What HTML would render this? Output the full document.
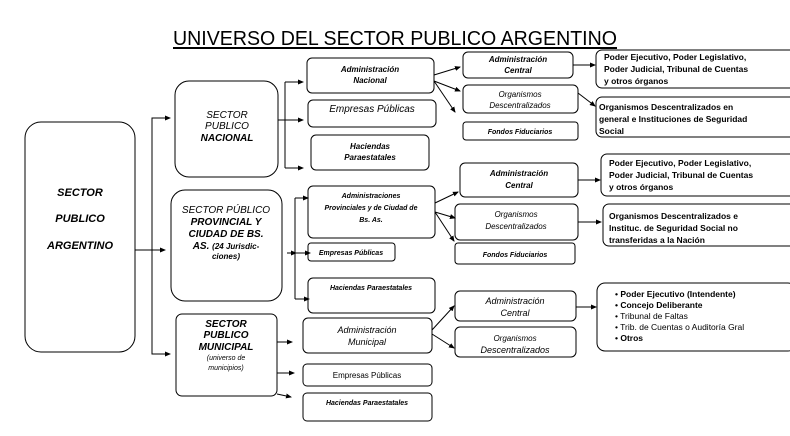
<!DOCTYPE html>
<html><head><meta charset="utf-8"><style>
html,body{margin:0;padding:0;background:#fff;}
svg{display:block;}
text{font-family:"Liberation Sans",sans-serif;fill:#000;}
.i{font-style:italic;font-weight:bold;}
.b{font-weight:bold;}
</style></head><body>
<svg width="790" height="436" viewBox="0 0 790 436" xmlns="http://www.w3.org/2000/svg">
<defs><marker id="a" markerWidth="6" markerHeight="6" refX="5" refY="3" orient="auto" markerUnits="userSpaceOnUse"><path d="M0,0.5 L6,3 L0,5.5 z" fill="#000"/></marker></defs>
<g fill="none" stroke="#000" stroke-width="1">
<line x1="173" y1="48" x2="617" y2="48" stroke-width="2"/>
<rect x="25" y="122" width="110" height="230" rx="16"/>
<rect x="175" y="81" width="103" height="96" rx="14"/>
<rect x="171" y="190" width="111" height="111" rx="14"/>
<rect x="176" y="314" width="101" height="82" rx="6"/>
<rect x="307" y="58" width="127" height="35" rx="5"/>
<rect x="308" y="100" width="128" height="27" rx="5"/>
<rect x="311" y="135" width="118" height="35" rx="5"/>
<rect x="308" y="186" width="127" height="52" rx="5"/>
<rect x="308" y="243" width="87" height="18" rx="3"/>
<rect x="308" y="278" width="127" height="35" rx="5"/>
<rect x="303" y="318" width="129" height="35" rx="5"/>
<rect x="303" y="364" width="129" height="22" rx="4"/>
<rect x="303" y="393" width="129" height="28" rx="4"/>
<rect x="463" y="52" width="110" height="26" rx="5"/>
<rect x="463" y="85" width="115" height="28" rx="5"/>
<rect x="463" y="122" width="115" height="18" rx="3"/>
<rect x="460" y="163" width="118" height="34" rx="5"/>
<rect x="455" y="204" width="123" height="36" rx="5"/>
<rect x="455" y="243" width="120" height="21" rx="3"/>
<rect x="455" y="291" width="121" height="30" rx="5"/>
<rect x="455" y="327" width="121" height="30" rx="5"/>
<rect x="596" y="50" width="200" height="38" rx="6"/>
<rect x="596" y="97" width="200" height="40" rx="6"/>
<rect x="601" y="154" width="195" height="42" rx="6"/>
<rect x="603" y="204" width="193" height="42" rx="6"/>
<rect x="597" y="283" width="199" height="68" rx="8"/>
<path d="M170,118 H152 V354 H170" marker-end="url(#a)"/>
<line x1="152" y1="118" x2="170" y2="118" marker-end="url(#a)"/>
<line x1="135" y1="250" x2="165" y2="250" marker-end="url(#a)"/>
<line x1="278" y1="120" x2="285" y2="120"/>
<path d="M285,82 V168"/>
<line x1="285" y1="82" x2="303" y2="82" marker-end="url(#a)"/>
<line x1="285" y1="120" x2="303" y2="120" marker-end="url(#a)"/>
<line x1="285" y1="168" x2="303" y2="168" marker-end="url(#a)"/>
<line x1="287" y1="253" x2="296" y2="253" marker-end="url(#a)"/>
<path d="M295,198 V299"/>
<line x1="295" y1="198" x2="308" y2="198" marker-end="url(#a)"/>
<line x1="295" y1="253" x2="310" y2="253" marker-end="url(#a)"/>
<line x1="295" y1="299" x2="309" y2="299" marker-end="url(#a)"/>
<line x1="277" y1="342" x2="292" y2="342" marker-end="url(#a)"/>
<line x1="277" y1="373" x2="294" y2="373" marker-end="url(#a)"/>
<line x1="277" y1="394" x2="291" y2="397" marker-end="url(#a)"/>
<line x1="434" y1="75" x2="460" y2="67" marker-end="url(#a)"/>
<line x1="434" y1="81" x2="460" y2="91" marker-end="url(#a)"/>
<line x1="434" y1="81" x2="455" y2="112" marker-end="url(#a)"/>
<line x1="573" y1="65" x2="595" y2="65" marker-end="url(#a)"/>
<line x1="578" y1="93" x2="595" y2="106" marker-end="url(#a)"/>
<line x1="435" y1="203" x2="458" y2="192" marker-end="url(#a)"/>
<line x1="435" y1="212" x2="455" y2="218" marker-end="url(#a)"/>
<line x1="435" y1="212" x2="454" y2="241" marker-end="url(#a)"/>
<line x1="578" y1="180" x2="600" y2="180" marker-end="url(#a)"/>
<line x1="578" y1="222" x2="601" y2="222" marker-end="url(#a)"/>
<line x1="432" y1="330" x2="454" y2="306" marker-end="url(#a)"/>
<line x1="432" y1="334" x2="454" y2="348" marker-end="url(#a)"/>
<line x1="576" y1="307" x2="596" y2="307" marker-end="url(#a)"/>
</g>
<text x="395" y="45" font-size="20" text-anchor="middle" textLength="444" lengthAdjust="spacingAndGlyphs">UNIVERSO DEL SECTOR PUBLICO ARGENTINO</text>
<g font-size="10" text-anchor="middle" class="i">
<text x="80" y="196" font-size="11">SECTOR</text>
<text x="80" y="222" font-size="11">PUBLICO</text>
<text x="80" y="249" font-size="11">ARGENTINO</text>
<text x="227" y="118" font-weight="normal">SECTOR</text>
<text x="227" y="129" font-weight="normal">PUBLICO</text>
<text x="227" y="141">NACIONAL</text>
<text x="226" y="213" font-weight="normal">SECTOR PÚBLICO</text>
<text x="226" y="225">PROVINCIAL Y</text>
<text x="226" y="237">CIUDAD DE BS.</text>
<text x="226" y="249">AS. <tspan font-size="8">(24 Jurisdic-</tspan></text>
<text x="226" y="259" font-size="8">ciones)</text>
<text x="226" y="327">SECTOR</text>
<text x="226" y="338">PUBLICO</text>
<text x="226" y="350">MUNICIPAL</text>
<text x="226" y="360" font-size="7" font-weight="normal">(universo de</text>
<text x="226" y="370" font-size="7" font-weight="normal">municipios)</text>
<text x="370" y="72" font-size="8">Administración</text>
<text x="370" y="83" font-size="8">Nacional</text>
<text x="372" y="112" font-weight="normal">Empresas Públicas</text>
<text x="370" y="149" font-size="8">Haciendas</text>
<text x="370" y="160" font-size="8">Paraestatales</text>
<text x="371" y="198" font-size="7">Administraciones</text>
<text x="371" y="210" font-size="7">Provinciales y de Ciudad de</text>
<text x="371" y="222" font-size="7">Bs. As.</text>
<text x="351" y="255" font-size="7">Empresas Públicas</text>
<text x="371" y="290" font-size="7">Haciendas Paraestatales</text>
<text x="367" y="333" font-size="9" font-weight="normal">Administración</text>
<text x="367" y="345" font-size="9" font-weight="normal">Municipal</text>
<text x="367" y="378" font-size="8" font-style="normal" font-weight="normal">Empresas Públicas</text>
<text x="367" y="405" font-size="7">Haciendas Paraestatales</text>
<text x="518" y="62" font-size="8">Administración</text>
<text x="518" y="73" font-size="8">Central</text>
<text x="520" y="97" font-size="8" font-weight="normal">Organismos</text>
<text x="520" y="108" font-size="8" font-weight="normal">Descentralizados</text>
<text x="520" y="134" font-size="7">Fondos Fiduciarios</text>
<text x="519" y="176" font-size="8">Administración</text>
<text x="519" y="188" font-size="8">Central</text>
<text x="516" y="217" font-size="8" font-weight="normal">Organismos</text>
<text x="516" y="229" font-size="8" font-weight="normal">Descentralizados</text>
<text x="515" y="257" font-size="7">Fondos Fiduciarios</text>
<text x="515" y="304" font-size="9" font-weight="normal">Administración</text>
<text x="515" y="316" font-size="9" font-weight="normal">Central</text>
<text x="515" y="341" font-size="8" font-weight="normal">Organismos</text>
<text x="515" y="353" font-size="9" font-weight="normal">Descentralizados</text>
</g>
<g font-size="8.5" class="b">
<text x="604" y="60">Poder Ejecutivo, Poder Legislativo,</text>
<text x="604" y="72">Poder Judicial, Tribunal de Cuentas</text>
<text x="604" y="84">y otros órganos</text>
<text x="599" y="110">Organismos Descentralizados en</text>
<text x="599" y="122">general e Instituciones de Seguridad</text>
<text x="599" y="134">Social</text>
<text x="609" y="166">Poder Ejecutivo, Poder Legislativo,</text>
<text x="609" y="178">Poder Judicial, Tribunal de Cuentas</text>
<text x="609" y="190">y otros órganos</text>
<text x="609" y="219">Organismos Descentralizados e</text>
<text x="609" y="231">Instituc. de Seguridad Social no</text>
<text x="609" y="243">transferidas a la Nación</text>
<text x="615" y="297" font-size="8.5">• Poder Ejecutivo (Intendente)</text>
<text x="615" y="308" font-size="8.5">• Concejo Deliberante</text>
<text x="615" y="319" font-size="8.5" font-weight="normal">• Tribunal de Faltas</text>
<text x="615" y="330" font-size="8.5" font-weight="normal">• Trib. de Cuentas o Auditoría Gral</text>
<text x="615" y="341" font-size="8.5">• Otros</text>
</g>
</svg>
</body></html>
